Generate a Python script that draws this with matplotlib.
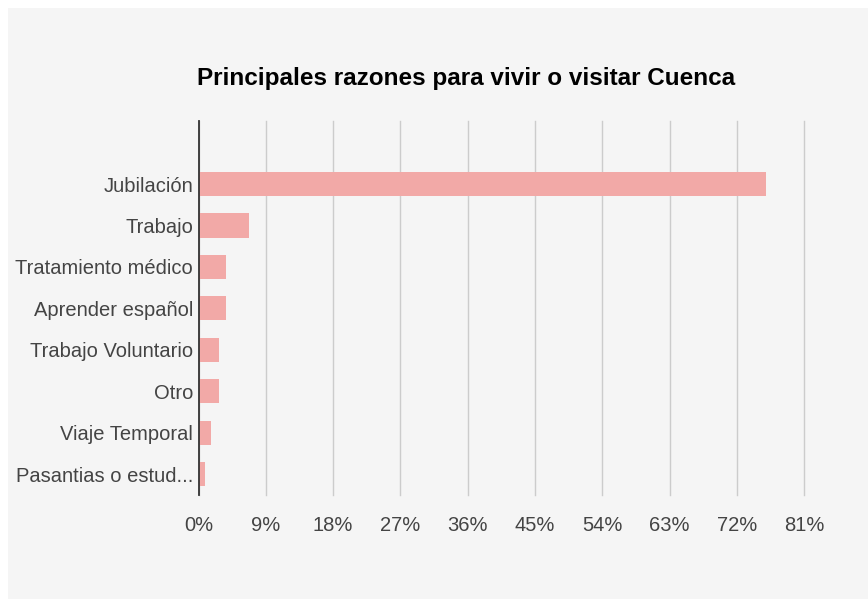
import matplotlib
matplotlib.use("Agg")
import matplotlib.pyplot as plt
from matplotlib.patches import Rectangle
from matplotlib.ticker import FuncFormatter

categories = ["Jubilación", "Trabajo", "Tratamiento médico", "Aprender español",
              "Trabajo Voluntario", "Otro", "Viaje Temporal", "Pasantias o estud..."]
values = [75.9, 6.8, 3.7, 3.7, 2.8, 2.8, 1.7, 0.85]
xticks = [0, 9, 18, 27, 36, 45, 54, 63, 72, 81]
title = "Principales razones para vivir o visitar Cuenca"

W, H = 868, 599
fig = plt.figure(figsize=(W / 100, H / 100), dpi=100, facecolor="white")
fig.patches.append(Rectangle((8 / W, 0), 1, 1 - 8 / H, transform=fig.transFigure,
                             facecolor="#f5f5f5", edgecolor="none", zorder=-10))

left, right, top, bottom = 198.5, 804.3, 121, 495
ax = fig.add_axes([left / W, 1 - bottom / H, (right - left) / W, (bottom - top) / H])
ax.set_facecolor("none")
ax.set_zorder(5)

ypos = list(range(len(categories)))
ax.barh(ypos, values, height=0.58, color="#f2a9a7", zorder=2)
ax.set_ylim(len(categories) - 0.5, -1.52)
ax.set_xlim(0, 81)

ax.set_xticks(xticks)
ax.xaxis.set_major_formatter(FuncFormatter(lambda v, p: f"{int(v)}%"))
ax.set_yticks(ypos)
ax.set_yticklabels(categories)

for s in ["top", "right", "bottom"]:
    ax.spines[s].set_visible(False)
ax.spines["left"].set_color("#333333")
ax.spines["left"].set_linewidth(1.3)
ax.spines["left"].set_zorder(3)

for gl in ax.xaxis.get_gridlines():
    pass
ax.grid(axis="x", color="#cccccc", linewidth=1.0, zorder=1)
for gl in ax.xaxis.get_gridlines():
    gl.set_clip_on(False)
ax.tick_params(axis="both", length=0, labelcolor="#444444", labelsize=14.5)
ax.tick_params(axis="y", pad=4)
ax.tick_params(axis="x", pad=15)
for lab in ax.get_xticklabels() + ax.get_yticklabels():
    lab.set_family("Liberation Sans")

fig.text(466 / W, 1 - 78 / H, title, ha="center", va="center",
         fontsize=17.5, fontweight="bold", family="Liberation Sans", color="#000000",
         zorder=6)

fig.savefig("out.png", dpi=100, facecolor="white")
